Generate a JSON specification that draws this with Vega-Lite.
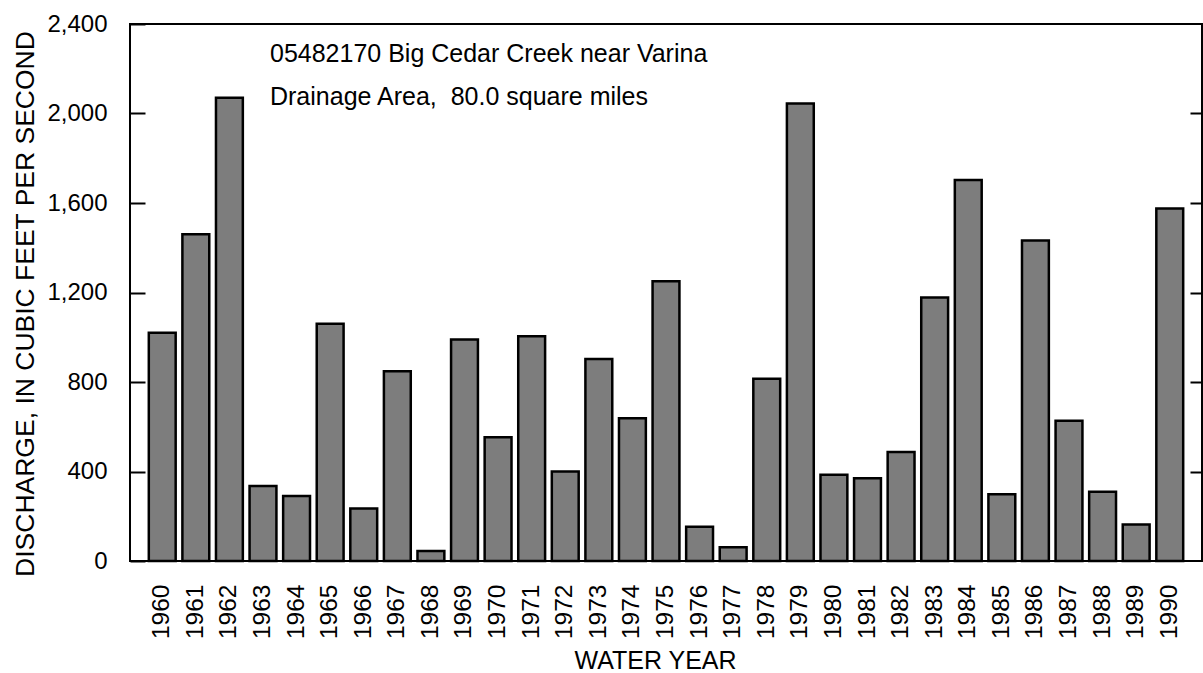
{
  "$schema": "https://vega.github.io/schema/vega-lite/v6.json",
  "autosize": {"type": "none"},
  "padding": {"left": 130, "top": 24, "right": 1, "bottom": 112},
  "width": 1072,
  "height": 537,
  "background": "white",
  "data": {
    "values": [
      {"year": "1960", "discharge": 1020},
      {"year": "1961", "discharge": 1460},
      {"year": "1962", "discharge": 2070},
      {"year": "1963", "discharge": 335},
      {"year": "1964", "discharge": 290},
      {"year": "1965", "discharge": 1060},
      {"year": "1966", "discharge": 235},
      {"year": "1967", "discharge": 848},
      {"year": "1968", "discharge": 45},
      {"year": "1969", "discharge": 990},
      {"year": "1970", "discharge": 553},
      {"year": "1971", "discharge": 1005},
      {"year": "1972", "discharge": 400},
      {"year": "1973", "discharge": 903},
      {"year": "1974", "discharge": 638},
      {"year": "1975", "discharge": 1250},
      {"year": "1976", "discharge": 153},
      {"year": "1977", "discharge": 62},
      {"year": "1978", "discharge": 815},
      {"year": "1979", "discharge": 2045},
      {"year": "1980", "discharge": 385},
      {"year": "1981", "discharge": 370},
      {"year": "1982", "discharge": 487},
      {"year": "1983", "discharge": 1178},
      {"year": "1984", "discharge": 1703},
      {"year": "1985", "discharge": 298},
      {"year": "1986", "discharge": 1432},
      {"year": "1987", "discharge": 627},
      {"year": "1988", "discharge": 310},
      {"year": "1989", "discharge": 163},
      {"year": "1990", "discharge": 1575}
    ]
  },
  "encoding": {
    "x": {
      "field": "year",
      "type": "ordinal",
      "scale": {"paddingInner": 0.2, "paddingOuter": 0.56},
      "axis": {
        "labelAngle": -90,
        "ticks": false,
        "domain": false,
        "grid": false,
        "labelPadding": 23,
        "labelFontSize": 24.5,
        "labelColor": "black",
        "title": "WATER YEAR",
        "titleFontSize": 25,
        "titleFontWeight": "normal",
        "titleColor": "black",
        "titleX": 525,
        "titleY": 107,
        "titleBaseline": "alphabetic"
      }
    }
  },
  "layer": [
    {
      "mark": {"type": "bar", "fill": "#7d7d7d", "stroke": "black", "strokeWidth": 2.5},
      "encoding": {
        "y": {
          "field": "discharge",
          "type": "quantitative",
          "scale": {"domain": [0, 2400], "nice": false},
          "axis": {
            "orient": "left",
            "values": [0, 400, 800, 1200, 1600, 2000, 2400],
            "format": ",d",
            "tickSize": -15,
            "tickWidth": 2,
            "tickColor": "black",
            "labelPadding": 38,
            "labelFontSize": 24,
            "labelColor": "black",
            "domain": false,
            "grid": false,
            "zindex": 1,
            "title": "DISCHARGE, IN CUBIC FEET PER SECOND",
            "titleFontSize": 26.5,
            "titleFontWeight": "normal",
            "titleColor": "black",
            "titleAngle": 270,
            "titleX": -97,
            "titleY": 279.5,
            "titleBaseline": "alphabetic"
          }
        }
      }
    },
    {
      "mark": {"type": "bar", "opacity": 0},
      "encoding": {
        "y": {
          "field": "discharge",
          "type": "quantitative",
          "scale": {"domain": [0, 2400], "nice": false},
          "axis": {
            "orient": "right",
            "values": [400, 800, 1200, 1600, 2000],
            "labels": false,
            "tickSize": -12,
            "tickWidth": 2,
            "tickColor": "black",
            "domain": false,
            "grid": false,
            "zindex": 1,
            "title": null
          }
        }
      }
    },
    {
      "data": {"values": [{}]},
      "mark": {"type": "text", "text": "05482170 Big Cedar Creek near Varina", "align": "left", "baseline": "alphabetic", "dx": 7, "fontSize": 25, "color": "black"},
      "encoding": {
        "x": {"datum": "1963"},
        "y": {"datum": 2230, "axis": null}
      }
    },
    {
      "data": {"values": [{}]},
      "mark": {"type": "text", "text": "Drainage Area,\u00a0 80.0 square miles", "align": "left", "baseline": "alphabetic", "dx": 7, "fontSize": 25, "color": "black"},
      "encoding": {
        "x": {"datum": "1963"},
        "y": {"datum": 2038, "axis": null}
      }
    }
  ],
  "resolve": {"axis": {"y": "independent"}},
  "config": {
    "font": "Liberation Sans",
    "view": {"stroke": "black", "strokeWidth": 2}
  }
}
